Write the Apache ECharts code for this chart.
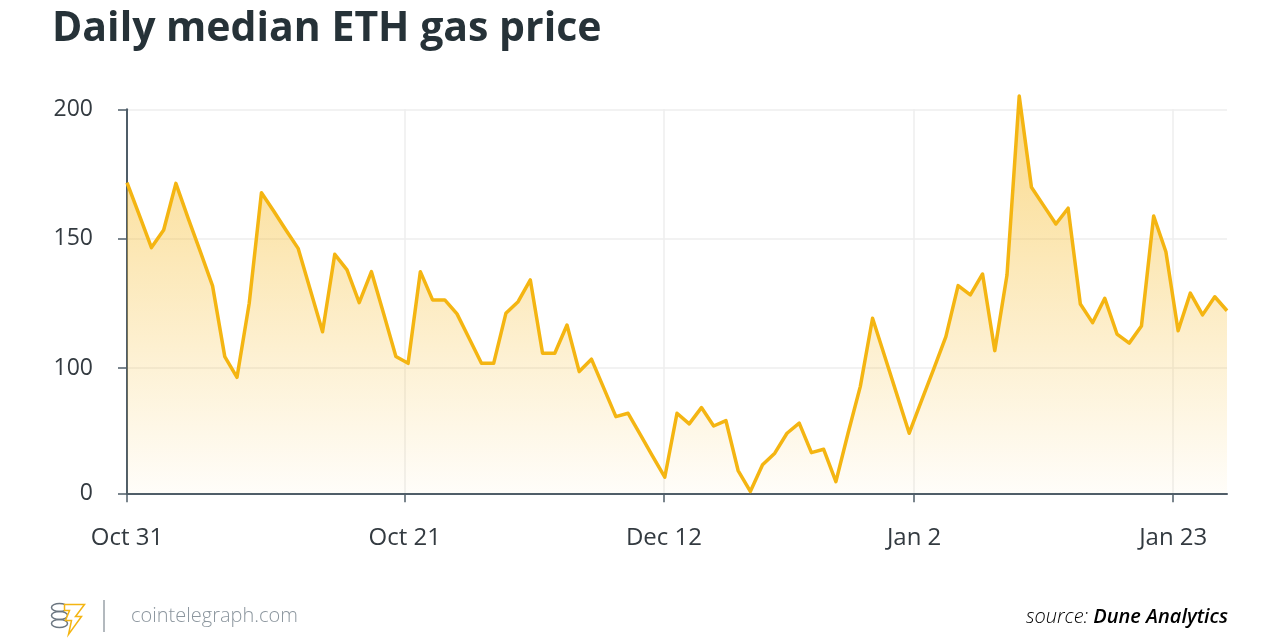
<!DOCTYPE html>
<html><head><meta charset="utf-8">
<script src="https://cdn.jsdelivr.net/npm/echarts@6/dist/echarts.min.js"></script>
<style>html,body{margin:0;padding:0;background:#fff}#c{width:1280px;height:640px}</style>
</head><body><div id="c"></div>
<script>
// Daily median ETH gas price, one value per point
const gasPrice = [
  171.7, 159.2, 146.6, 153.4, 171.4, 158.0, 145.0, 131.8, 104.5, 96.5,
  125.1, 167.8, 160.7, 153.4, 146.3, 130.2, 114.1, 144.0, 138.0, 125.3,
  137.3, 121.0, 104.5, 101.9, 137.3, 126.4, 126.4, 121.0, 111.5, 101.9,
  101.9, 121.2, 125.7, 134.1, 105.8, 105.8, 116.7, 98.7, 103.5, 92.4,
  81.3, 82.6, 74.4, 66.1, 57.9, 82.6, 78.5, 84.8, 77.7, 79.8,
  60.5, 52.4, 62.7, 67.2, 74.9, 78.8, 67.4, 68.7, 56.2, 75.0,
  93.0, 119.3, 104.5, 89.7, 74.9, 87.4, 99.7, 112.2, 131.9, 128.3,
  136.4, 106.8, 136.0, 205.1, 169.9, 162.8, 155.7, 161.8, 124.8, 117.6,
  127.0, 113.2, 109.7, 116.3, 158.8, 145.0, 114.5, 129.0, 120.6, 127.6,
  122.2
];
const xTickPositions = [0, 22.73, 43.93, 64.4, 85.6];
const xTickLabels = ['Oct 31', 'Oct 21', 'Dec 12', 'Jan 2', 'Jan 23'];
const yTickValues = [51.7, 100, 150, 200];
const yTickLabels = ['0', '100', '150', '200'];

const titleText = 'Daily median ETH gas price';
const siteText = 'cointelegraph.com';
const sourceLabel = 'source: ';
const sourceName = 'Dune Analytics';

const chart = echarts.init(document.getElementById('c'), null, {renderer: 'canvas'});
const FONT = '"Open Sans", "Noto Sans", sans-serif';

chart.setOption({
  backgroundColor: '#ffffff',
  animation: false,
  title: {
    text: titleText,
    left: 47, top: 4,
    textStyle: {fontFamily: FONT, fontWeight: 'bold', fontSize: 41, color: '#263238'}
  },
  grid: {left: 127, right: 53, top: 109.3, bottom: 146.7, containLabel: false},
  xAxis: {
    type: 'value', min: 0, max: gasPrice.length - 1,
    axisLine: {show: true, onZero: false, lineStyle: {color: '#4f5d68', width: 2}},
    axisTick: {show: true, length: 9, customValues: xTickPositions, lineStyle: {color: '#4f5d68', width: 1.5}},
    axisLabel: {
      customValues: xTickPositions, margin: 33,
      fontFamily: FONT, fontSize: 24, color: '#333a40',
      formatter: function (v) {
        const k = xTickPositions.findIndex(p => Math.abs(p - v) < 1e-6);
        return k >= 0 ? xTickLabels[k] : '';
      }
    },
    splitLine: {show: true, lineStyle: {color: '#eeeeee', width: 1.5}}
  },
  yAxis: {
    type: 'value', min: yTickValues[0], max: yTickValues[yTickValues.length - 1],
    axisLine: {show: true, lineStyle: {color: '#4f5d68', width: 2}},
    axisTick: {show: true, length: 9, customValues: yTickValues, lineStyle: {color: '#4f5d68', width: 1.5}},
    axisLabel: {
      customValues: yTickValues, margin: 34,
      fontFamily: FONT, fontSize: 23, color: '#333a40',
      formatter: function (v) {
        const k = yTickValues.findIndex(p => Math.abs(p - v) < 1e-6);
        return k >= 0 ? yTickLabels[k] : '';
      }
    },
    splitLine: {show: true, lineStyle: {color: '#eeeeee', width: 1.5}}
  },
  series: [{
    type: 'line',
    data: gasPrice.map((v, i) => [i, v]),
    clip: false,
    symbol: 'none',
    lineStyle: {color: '#F4B512', width: 3.5, join: 'round'},
    areaStyle: {
      origin: 'start',
      color: new echarts.graphic.LinearGradient(0, 0, 0, 1, [
        {offset: 0, color: 'rgba(246,186,40,0.78)'},
        {offset: 1, color: 'rgba(246,186,40,0.04)'}
      ])
    },
    z: 3
  }],
  graphic: [
    // logo: stacked coins with a bolt
    {type: 'group', left: 49, top: 601, children: [
      {type: 'ellipse', shape: {cx: 9, cy: 5, rx: 8, ry: 4}, style: {fill: 'none', stroke: '#6b7680', lineWidth: 1.5}},
      {type: 'ellipse', shape: {cx: 9, cy: 13, rx: 8, ry: 4}, style: {fill: 'none', stroke: '#6b7680', lineWidth: 1.5}},
      {type: 'ellipse', shape: {cx: 9, cy: 21, rx: 8, ry: 4}, style: {fill: 'none', stroke: '#6b7680', lineWidth: 1.5}},
      {type: 'polygon', shape: {points: [[14, 2], [34, 2], [25, 14], [31, 14], [18, 32], [21, 18], [15, 18], [19, 8], [14, 8]]},
        style: {fill: '#ffffff', stroke: '#F4B512', lineWidth: 1.5}}
    ]},
    {type: 'line', shape: {x1: 104, y1: 600, x2: 104, y2: 632}, style: {stroke: '#9aa2a9', lineWidth: 1.5}},
    {type: 'text', left: 131, top: 606, style: {text: siteText, font: '300 20px ' + FONT, fill: '#8c969e'}},
    {type: 'text', right: 52, top: 607, style: {
      rich: {
        s: {fontFamily: FONT, fontStyle: 'italic', fontWeight: 300, fontSize: 20, color: '#8c969e'},
        d: {fontFamily: FONT, fontStyle: 'italic', fontWeight: 600, fontSize: 20, color: '#45525c'}
      },
      text: '{s|' + sourceLabel + '}{d|' + sourceName + '}'
    }}
  ]
});
</script>
</body></html>
